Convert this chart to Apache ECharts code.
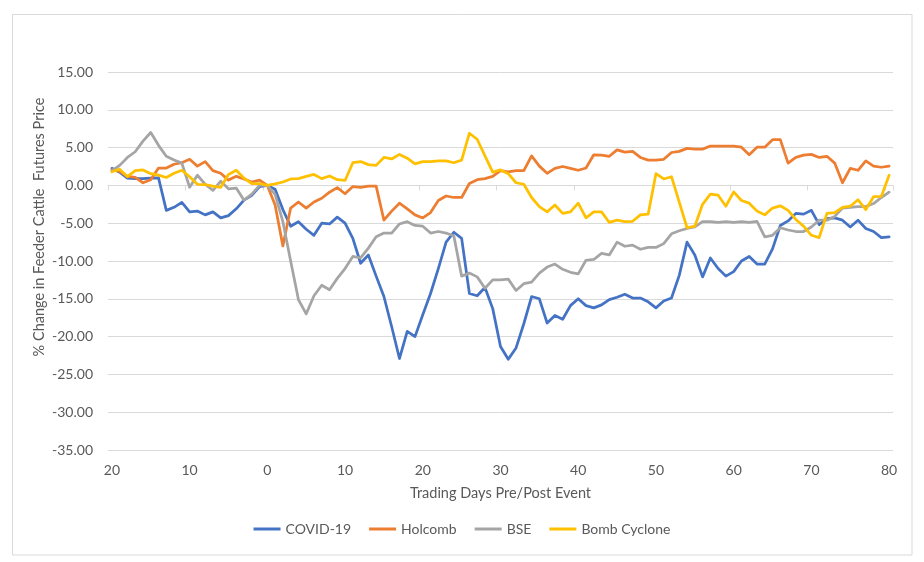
<!DOCTYPE html>
<html>
<head>
<meta charset="utf-8">
<script src="https://cdn.jsdelivr.net/npm/echarts@6/dist/echarts.min.js"></script>
<style>
html,body{margin:0;padding:0;background:#fff;}
#chart{width:924px;height:562px;}
</style>
</head>
<body>
<div id="chart"></div>
<script>
// Trading days relative to the event (-20 .. 80)
const days = [];
for (let d = -20; d <= 80; d++) days.push(d);
// Tick labels are shown as absolute day counts
const tickLabel = function (v) { return String(Math.abs(Number(v))); };
const yTicks = [15, 10, 5, 0, -5, -10, -15, -20, -25, -30, -35];

const covid19 = [
  2.26,1.75,0.95,0.9,0.9,0.95,1.0,-3.3,-2.9,-2.25,
  -3.5,-3.4,-3.9,-3.5,-4.3,-4.0,-3.1,-1.95,-1.3,-0.15,
  0,-0.5,-3.2,-5.4,-4.8,-5.8,-6.6,-5.0,-5.1,-4.2,
  -5.0,-7.0,-10.3,-9.2,-12.0,-14.7,-18.7,-22.9,-19.3,-20.0,
  -17.1,-14.3,-11.0,-7.5,-6.2,-7.0,-14.3,-14.6,-13.5,-16.3,
  -21.3,-23.0,-21.5,-18.3,-14.7,-15.0,-18.2,-17.2,-17.7,-15.9,
  -15.0,-15.9,-16.2,-15.8,-15.1,-14.8,-14.4,-14.9,-14.9,-15.4,
  -16.2,-15.3,-14.9,-11.9,-7.5,-9.2,-12.1,-9.6,-11.0,-12.0,
  -11.4,-10.0,-9.4,-10.4,-10.4,-8.4,-5.3,-4.7,-3.7,-3.8,
  -3.3,-5.2,-4.4,-4.3,-4.6,-5.5,-4.6,-5.7,-6.1,-6.9,
  -6.8
];
const holcomb = [
  2.05,1.85,1.2,1.05,0.35,0.75,2.3,2.3,2.8,3.0,
  3.45,2.55,3.15,1.95,1.6,0.7,1.2,0.85,0.45,0.7,
  0,-2.6,-8.0,-3.0,-2.2,-3.0,-2.2,-1.7,-0.9,-0.3,
  -1.1,-0.15,-0.25,-0.1,-0.1,-4.6,-3.4,-2.35,-3.1,-3.9,
  -4.3,-3.6,-2.0,-1.4,-1.6,-1.6,0.25,0.75,0.9,1.2,
  1.95,1.8,1.95,1.95,3.9,2.55,1.6,2.25,2.5,2.25,
  2.0,2.3,4.05,4.0,3.85,4.7,4.4,4.5,3.7,3.35,
  3.35,3.45,4.35,4.5,4.9,4.8,4.8,5.2,5.2,5.2,
  5.2,5.05,4.05,5.05,5.05,6.05,6.05,2.95,3.7,4.0,
  4.1,3.7,3.85,2.95,0.35,2.25,2.0,3.25,2.55,2.4,
  2.55
];
const bse = [
  1.95,2.65,3.7,4.45,5.85,7.0,5.3,3.85,3.35,2.95,
  -0.25,1.35,0.15,-0.65,0.55,-0.45,-0.35,-1.95,-1.15,0,
  0,-1.2,-4.8,-10.0,-15.1,-17.0,-14.6,-13.2,-13.8,-12.3,
  -11.0,-9.4,-9.6,-8.3,-6.8,-6.3,-6.3,-5.1,-4.8,-5.3,
  -5.4,-6.3,-6.1,-6.3,-6.7,-12.0,-11.6,-12.1,-13.6,-12.5,
  -12.5,-12.4,-13.9,-13.0,-12.8,-11.6,-10.8,-10.4,-11.1,-11.5,
  -11.7,-9.9,-9.8,-9.0,-9.2,-7.5,-8.05,-7.9,-8.45,-8.2,
  -8.2,-7.7,-6.4,-6.0,-5.7,-5.5,-4.8,-4.8,-4.9,-4.8,
  -4.9,-4.8,-4.9,-4.75,-6.8,-6.6,-5.6,-5.9,-6.1,-6.1,
  -5.5,-4.6,-4.6,-4.1,-3.0,-2.9,-2.8,-2.8,-2.4,-1.6,
  -0.9
];
const bombCyclone = [
  1.8,2.15,1.15,1.95,2.05,1.55,1.35,1.05,1.6,2.0,
  1.15,0.15,0.1,-0.1,-0.25,1.45,2.0,0.95,0.25,0.25,
  0,0.2,0.45,0.85,0.9,1.2,1.45,0.9,1.25,0.75,
  0.65,3.0,3.15,2.75,2.65,3.7,3.5,4.1,3.6,2.85,
  3.15,3.15,3.25,3.25,3.0,3.35,6.9,6.1,3.9,1.75,
  2.05,1.55,0.35,0.15,-1.6,-2.8,-3.5,-2.6,-3.7,-3.5,
  -2.35,-4.3,-3.5,-3.5,-4.9,-4.6,-4.8,-4.75,-3.9,-3.8,
  1.55,0.85,1.15,-2.2,-5.6,-5.4,-2.5,-1.15,-1.3,-2.75,
  -0.85,-2.0,-2.35,-3.4,-3.9,-3.0,-2.7,-3.3,-4.5,-5.4,
  -6.6,-6.9,-3.7,-3.6,-2.9,-2.75,-1.9,-3.2,-1.5,-1.45,
  1.35
];

const seriesNames = ['COVID-19', 'Holcomb', 'BSE', 'Bomb Cyclone'];
const seriesData = [covid19, holcomb, bse, bombCyclone];
const colors = ['#4472C4', '#ED7D31', '#A5A5A5', '#FFC000'];

const FONT = 'Lato';
const TXT = '#595959';
const GRID = '#D9D9D9';

const chart = echarts.init(document.getElementById('chart'), null, {renderer: 'canvas'});
chart.setOption({
  animation: false,
  backgroundColor: '#fff',
  color: colors,
  textStyle: {fontFamily: FONT},
  grid: {left: 108, right: 31, top: 72, bottom: 112},
  legend: {
    data: seriesNames,
    bottom: 21,
    left: 'center',
    icon: 'rect',
    itemWidth: 27,
    itemHeight: 3,
    itemGap: 18,
    textStyle: {color: TXT, fontSize: 14, fontFamily: FONT}
  },
  xAxis: [
    {
      type: 'category',
      data: days,
      boundaryGap: true,
      axisLine: {show: true, onZero: true, lineStyle: {color: GRID, width: 1}},
      axisTick: {show: true, interval: 9, length: 5, lineStyle: {color: GRID}},
      axisLabel: {show: false},
      splitLine: {show: false}
    },
    {
      type: 'category',
      data: days,
      boundaryGap: true,
      position: 'bottom',
      axisLine: {show: false, onZero: false},
      axisTick: {show: false},
      axisLabel: {
        show: true, interval: 9, margin: 13,
        color: TXT, fontSize: 14, fontFamily: FONT,
        formatter: tickLabel
      },
      splitLine: {show: false},
      name: 'Trading Days Pre/Post Event',
      nameLocation: 'middle',
      nameGap: 36,
      nameTextStyle: {color: TXT, fontSize: 14.5, fontFamily: FONT}
    }
  ],
  yAxis: {
    type: 'value',
    min: yTicks[yTicks.length - 1],
    max: yTicks[0],
    interval: 5,
    axisLine: {show: false},
    axisTick: {show: false},
    axisLabel: {
      margin: 15, color: TXT, fontSize: 14, fontFamily: FONT,
      formatter: function (v) { return v.toFixed(2); }
    },
    splitLine: {show: true, lineStyle: {color: GRID, width: 1}}
  },
  graphic: [
    {
      type: 'rect',
      shape: {x: 12.5, y: 14.5, width: 899.5, height: 540.5},
      style: {fill: 'none', stroke: GRID, lineWidth: 1},
      silent: true, z: -10
    },
    {
      type: 'text',
      x: 39, y: 227,
      rotation: Math.PI / 2,
      style: {
        text: '% Change in Feeder Cattle  Futures Price',
        fill: TXT, fontSize: 14.5, fontFamily: FONT,
        textAlign: 'center', textVerticalAlign: 'middle'
      }
    }
  ],
  series: seriesNames.map(function (n, i) {
    return {
      name: n,
      type: 'line',
      data: seriesData[i],
      showSymbol: false,
      symbol: 'none',
      smooth: false,
      lineStyle: {width: 2.75, color: colors[i], join: 'round', cap: 'round'},
      itemStyle: {color: colors[i]}
    };
  })
});
</script>
</body>
</html>
